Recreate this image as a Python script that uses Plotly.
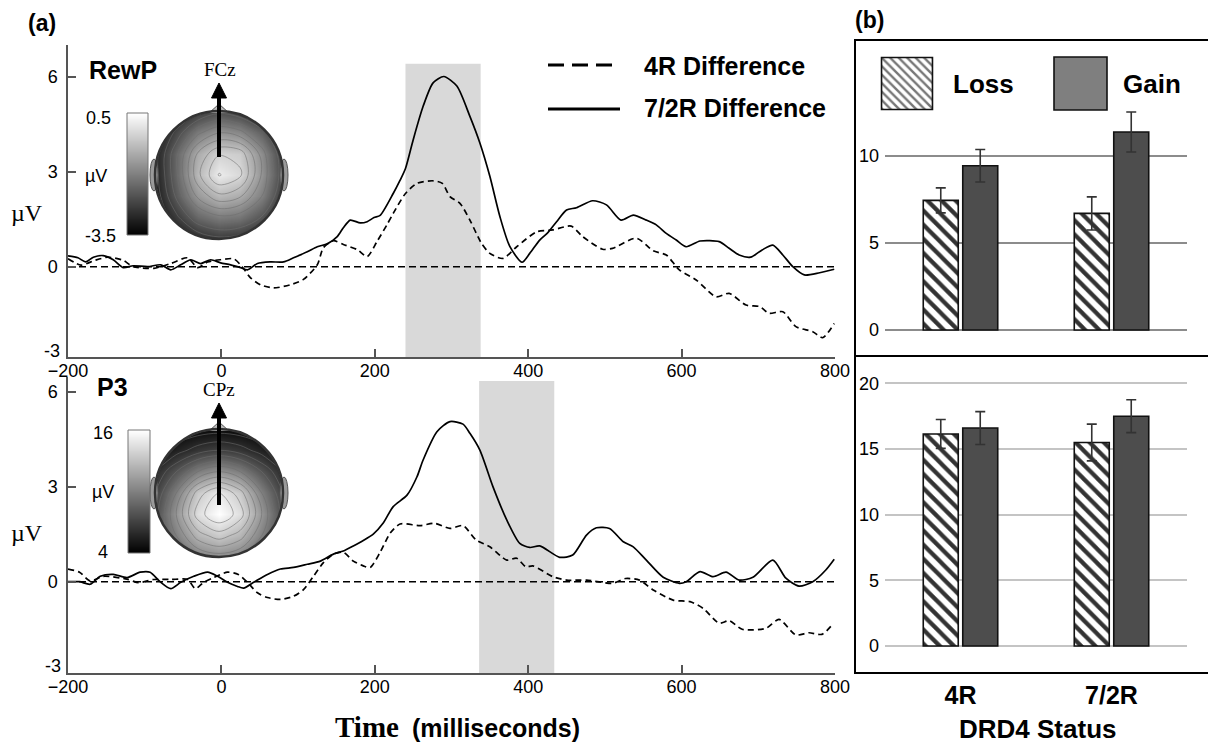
import math
import plotly.graph_objects as go

W, H = 1208, 745
SANS = "Liberation Sans, Arial, sans-serif"
SERIF = "Liberation Serif, Times New Roman, serif"


def PX(x):
    return x / W


def PY(y):
    return 1 - y / H


# ---------------- data: ERP difference waves (µV) ----------------
rewp_72r_t = [-200, -187, -177, -167, -154, -141, -128, -115, -96, -79, -66, -53, -40, -27, -14, -1, 12, 25, 34, 47,
              64, 81, 94, 112, 125, 138, 151, 159, 168, 181, 190, 199, 207, 224, 233, 240, 250, 263, 276, 290,
              307, 324, 337, 350, 363, 376, 392, 402, 415, 425, 437, 450, 463, 484, 502, 521, 537, 554, 567, 580,
              593, 606, 624, 649, 662, 675, 690, 705, 719, 732, 745, 760, 780, 799]
rewp_72r_v = [0.34, 0.28, 0.15, 0.3, 0.35, 0.22, -0.03, 0.03, 0, 0.06, -0.1, 0.06, 0.22, 0.1, 0.22, 0.12, 0.06, -0.03, -0.1, 0.1,
              0.15, 0.15, 0.28, 0.47, 0.63, 0.72, 0.95, 1.23, 1.47, 1.38, 1.42, 1.55, 1.62, 2.31, 2.73, 3.1, 4.0, 5.06, 5.8, 6.0,
              5.7, 4.74, 3.9, 2.85, 1.59, 0.64, 0.14, 0.42, 0.84, 1.06, 1.42, 1.79, 1.86, 2.08, 1.95, 1.47, 1.63, 1.47, 1.32, 1.05,
              0.84, 0.63, 0.81, 0.79, 0.58, 0.37, 0.3, 0.53, 0.68, 0.37, 0, -0.26, -0.19, -0.08]

rewp_4r_t = [-200, -183, -165, -148, -128, -115, -88, -66, -44, -31, -18, -1, 16, 27, 38, 51, 68, 90, 107, 125,
             133, 146, 159, 177, 190, 203, 216, 224, 240, 255, 276, 288, 298, 311, 324, 339, 350, 367, 385, 411,
             432, 456, 471, 497, 510, 541, 563, 580, 597, 619, 645, 662, 684, 702, 714, 732, 749, 771, 784, 799]
rewp_4r_v = [0.25, 0.05, 0.2, 0.3, 0.2, 0, -0.05, 0.1, 0.28, -0.03, 0.15, 0.22, 0.25, 0, -0.35, -0.57, -0.67, -0.57, -0.4, 0.06,
             0.6, 0.82, 0.7, 0.54, 0.32, 0.8, 1.33, 1.68, 2.31, 2.63, 2.71, 2.63, 2.21, 2.0, 1.47, 0.74, 0.42, 0.26, 0.63, 1.1,
             1.16, 1.28, 0.95, 0.55, 0.58, 0.9, 0.5, 0.37, -0.1, -0.42, -0.95, -0.84, -1.21, -1.26, -1.47, -1.42, -1.89, -2.05, -2.24, -1.79]

p3_72r_t = [-200, -185, -171, -158, -141, -123, -106, -93, -80, -66, -53, -36, -18, -5, 8, 21, 29, 42, 60, 77,
            94, 112, 129, 146, 159, 172, 185, 198, 211, 224, 242, 255, 263, 281, 298, 315, 324, 337, 354, 372,
            389, 402, 415, 441, 458, 476, 489, 506, 524, 537, 554, 576, 597, 606, 624, 641, 658, 675, 693, 719,
            736, 753, 771, 788, 799]
p3_72r_v = [0, 0, -0.08, 0.17, 0.23, 0.13, 0.3, 0.3, 0, -0.22, -0.02, 0.17, 0.3, 0.17, -0.02, -0.15, -0.2, -0.02, 0.23, 0.4,
            0.45, 0.55, 0.65, 0.87, 0.97, 1.13, 1.3, 1.5, 1.85, 2.37, 2.73, 3.31, 3.84, 4.73, 5.05, 4.97, 4.68, 4.15, 3.0, 1.95,
            1.21, 1.08, 1.13, 0.77, 0.84, 1.47, 1.7, 1.68, 1.26, 1.1, 0.68, 0.14, -0.05, 0, 0.32, 0.16, 0.3, 0.05, 0.14, 0.68,
            0.11, -0.14, 0, 0.37, 0.71]

p3_4r_t = [-200, -185, -171, -154, -123, -108, -88, -66, -44, -34, -23, -10, 8, 22, 34, 47, 60, 77, 94, 107,
           120, 133, 146, 159, 172, 185, 194, 207, 220, 233, 259, 278, 298, 315, 332, 350, 372, 385, 397, 406,
           432, 450, 476, 510, 527, 545, 563, 589, 611, 628, 649, 662, 679, 710, 727, 749, 766, 783, 796]
p3_4r_v = [0.4, 0.3, 0.02, 0.17, 0.08, -0.03, 0.07, 0.07, 0.07, -0.22, -0.02, 0.13, 0.3, 0.23, -0.02, -0.35, -0.5, -0.56, -0.46, -0.25,
           0.17, 0.6, 0.87, 0.93, 0.65, 0.5, 0.45, 0.93, 1.53, 1.82, 1.77, 1.84, 1.68, 1.77, 1.32, 1.1, 0.68, 0.74, 0.47, 0.5,
           0.16, 0.05, 0.05, -0.05, 0.1, 0.05, -0.26, -0.58, -0.63, -0.84, -1.31, -1.23, -1.5, -1.47, -1.19, -1.68, -1.61, -1.66, -1.37]

rewp_window = [240, 338]
p3_window = [336, 434]
time_ticks = [-200, 0, 200, 400, 600, 800]

# ---------------- data: mean amplitudes by DRD4 status ----------------
groups = ["4R", "7/2R"]
rewp_loss = [7.45, 6.7]
rewp_loss_err = [0.72, 0.95]
rewp_gain = [9.44, 11.38]
rewp_gain_err = [0.93, 1.15]
p3_loss = [16.15, 15.5]
p3_loss_err = [1.1, 1.4]
p3_gain = [16.6, 17.5]
p3_gain_err = [1.25, 1.25]

# ---------------- data: scalp maps (µV grid, rows top -> bottom) ----------------
topo_grid = [-1, -0.667, -0.333, 0, 0.333, 0.667, 1]
rewp_map = [
    [-3.5, -3.1, -2.6, -2.3, -2.5, -3.0, -3.5],
    [-3.2, -2.4, -1.6, -1.2, -1.4, -2.0, -2.9],
    [-3.0, -1.9, -0.8, -0.2, -0.3, -1.3, -2.5],
    [-3.0, -1.9, -0.6, 0.2, -0.1, -1.2, -2.4],
    [-3.1, -2.1, -1.1, -0.6, -0.8, -1.5, -2.6],
    [-3.3, -2.6, -1.9, -1.6, -1.7, -2.2, -2.9],
    [-3.5, -3.2, -2.8, -2.6, -2.7, -3.0, -3.4],
]
p3_map = [
    [4.0, 4.0, 4.3, 4.5, 4.3, 4.0, 4.0],
    [4.5, 5.5, 6.5, 7.0, 6.5, 5.5, 4.5],
    [6.0, 8.0, 10.0, 11.0, 10.0, 8.0, 6.0],
    [7.0, 10.0, 13.5, 15.0, 13.5, 10.0, 7.0],
    [7.5, 11.0, 14.5, 16.0, 14.5, 11.0, 7.5],
    [7.5, 10.0, 12.5, 13.5, 12.5, 10.0, 7.5],
    [7.0, 8.5, 10.0, 10.5, 10.0, 8.5, 7.0],
]
rewp_scale = [-3.5, 0.5]
p3_scale = [4, 16]

# ---------------- geometry (pixels) ----------------
EEG_X = [68, 835]
TOP_Y = [45, 357]
BOT_Y = [377, 673]
HEAD1 = (219, 175, 64)
HEAD2 = (219, 493, 64)
CBAR1 = (127, 148, 113, 235)
CBAR2 = (128, 150, 430, 553)

fig = go.Figure()

dash_style = "6px,4px"
for t, v, ax, dash in [
    (rewp_4r_t, rewp_4r_v, ("x", "y"), dash_style),
    (rewp_72r_t, rewp_72r_v, ("x", "y"), "solid"),
    (p3_4r_t, p3_4r_v, ("x2", "y2"), dash_style),
    (p3_72r_t, p3_72r_v, ("x2", "y2"), "solid"),
]:
    fig.add_trace(go.Scatter(
        x=t, y=v, mode="lines", xaxis=ax[0], yaxis=ax[1], showlegend=False,
        line=dict(color="black", width=1.7, dash=dash, shape="spline", smoothing=0.7),
        hoverinfo="skip"))

greys = [[0, "black"], [1, "white"]]
for grid, sc, ax in [
    (rewp_map, rewp_scale, ("x3", "y3")),
    (p3_map, p3_scale, ("x4", "y4")),
]:
    span = sc[1] - sc[0]
    fig.add_trace(go.Contour(
        x=topo_grid, y=topo_grid[::-1], z=grid, xaxis=ax[0], yaxis=ax[1],
        colorscale=greys, zmin=sc[0], zmax=sc[1], showscale=False,
        contours=dict(coloring="heatmap", start=sc[0], end=sc[1], size=span / 12),
        line=dict(color="rgba(110,110,110,0.7)", width=0.8, smoothing=1),
        hoverinfo="skip"))

# colour ramps beside the scalp maps
for sc, ax in [(rewp_scale, ("x8", "y8")), (p3_scale, ("x9", "y9"))]:
    fig.add_trace(go.Heatmap(
        z=[[sc[0]], [sc[1]]], x=[0], y=[0, 1], xaxis=ax[0], yaxis=ax[1],
        colorscale=greys, zmin=sc[0], zmax=sc[1], zsmooth="best", showscale=False,
        hoverinfo="skip"))

# bars
hatch = dict(shape="\\", fgcolor="#333333", fgopacity=1, bgcolor="white", size=10, solidity=0.42)
for loss, le, gain, ge, ax in [
    (rewp_loss, rewp_loss_err, rewp_gain, rewp_gain_err, ("x5", "y5")),
    (p3_loss, p3_loss_err, p3_gain, p3_gain_err, ("x6", "y6")),
]:
    fig.add_trace(go.Bar(
        x=groups, y=loss, xaxis=ax[0], yaxis=ax[1], name="Loss", showlegend=False,
        marker=dict(color="white", pattern=hatch, line=dict(color="#111", width=1.6)),
        error_y=dict(type="data", array=le, color="#333", thickness=1.6, width=5)))
    fig.add_trace(go.Bar(
        x=groups, y=gain, xaxis=ax[0], yaxis=ax[1], name="Gain", showlegend=False,
        marker=dict(color="#4d4d4d", line=dict(color="#111", width=1.6)),
        error_y=dict(type="data", array=ge, color="#333", thickness=1.6, width=5)))

# hatched legend key
fig.add_trace(go.Bar(
    x=[0], y=[1], width=[1], xaxis="x7", yaxis="y7", showlegend=False, hoverinfo="skip",
    marker=dict(color="white", line=dict(color="#111", width=1.6),
                pattern=dict(shape="\\", fgcolor="#777", fgopacity=1, bgcolor="white", size=6, solidity=0.4))))

axis_common = dict(showgrid=False, zeroline=False, showline=True, linecolor="#555", linewidth=1.5,
                   ticks="inside", ticklen=8, tickwidth=1.5, tickcolor="#555", automargin=False,
                   tickfont=dict(family=SANS, size=18, color="black"))


def yr(zero_px, top_px, bot_px, ppu):
    return [-(bot_px - zero_px) / ppu, (zero_px - top_px) / ppu]


layout = dict(
    width=W, height=H, margin=dict(l=0, r=0, t=0, b=0, autoexpand=False),
    paper_bgcolor="white", plot_bgcolor="rgba(0,0,0,0)",
    barmode="group", bargap=0.477, bargroupgap=0.114, showlegend=False,
    xaxis=dict(domain=[PX(EEG_X[0]), PX(EEG_X[1])], range=[-200, 800], anchor="y",
               tickvals=time_ticks, ticklabelstandoff=-3, **axis_common),
    yaxis=dict(domain=[PY(TOP_Y[1]), PY(TOP_Y[0])], range=yr(266.7, TOP_Y[0], TOP_Y[1], 31.7), anchor="x",
               tickvals=[0, 3, 6], ticklabelstandoff=5, **axis_common),
    xaxis2=dict(domain=[PX(EEG_X[0]), PX(EEG_X[1])], range=[-200, 800], anchor="y2",
                tickvals=time_ticks, ticklabelstandoff=-3, **axis_common),
    yaxis2=dict(domain=[PY(BOT_Y[1]), PY(BOT_Y[0])], range=yr(581.7, BOT_Y[0], BOT_Y[1], 31.7), anchor="x2",
                tickvals=[0, 3, 6], ticklabelstandoff=5, **axis_common),
)

hidden = dict(visible=False, automargin=False)
for i, (cx, cy, r) in zip([3, 4], [HEAD1, HEAD2]):
    layout[f"xaxis{i}"] = dict(domain=[PX(cx - r), PX(cx + r)], range=[-1, 1], anchor=f"y{i}", **hidden)
    layout[f"yaxis{i}"] = dict(domain=[PY(cy + r), PY(cy - r)], range=[-1, 1], anchor=f"x{i}", **hidden)
for i, (x0, x1, y0, y1) in zip([8, 9], [CBAR1, CBAR2]):
    layout[f"xaxis{i}"] = dict(domain=[PX(x0), PX(x1)], range=[-0.5, 0.5], anchor=f"y{i}", **hidden)
    layout[f"yaxis{i}"] = dict(domain=[PY(y1), PY(y0)], range=[0, 1], anchor=f"x{i}", **hidden)

bar_x = dict(type="category", showgrid=False, zeroline=False, showline=False, ticks="", automargin=False)
bar_y = dict(zeroline=False, showline=False, ticks="", ticklabelstandoff=5, automargin=False, showgrid=True,
             gridwidth=1.6, tickfont=dict(family=SANS, size=18, color="black"))
layout["xaxis5"] = dict(domain=[PX(885), PX(1187)], anchor="y5", showticklabels=False, **bar_x)
layout["yaxis5"] = dict(domain=[PY(350), PY(45)], range=yr(330, 45, 350, 17.4), anchor="x5",
                        tickvals=[0, 5, 10], gridcolor="#8c8c8c", **bar_y)
layout["xaxis6"] = dict(domain=[PX(885), PX(1187)], anchor="y6", ticklabelstandoff=10,
                        tickfont=dict(family=SANS, size=25, color="black", weight="bold"), **bar_x)
layout["yaxis6"] = dict(domain=[PY(668), PY(365)], range=yr(646, 365, 668, 13.13), anchor="x6",
                        tickvals=[0, 5, 10, 15, 20], gridcolor="#c4c4c4", **bar_y)
layout["xaxis7"] = dict(domain=[PX(880), PX(934)], range=[-0.53, 0.53], anchor="y7", **hidden)
layout["yaxis7"] = dict(domain=[PY(111), PY(56)], range=[-0.03, 1.03], anchor="x7", **hidden)

fig.update_layout(**layout)

shapes = []
# analysis windows and zero lines
for win, xa, ya, top in [(rewp_window, "x", "y", 6.4), (p3_window, "x2", "y2", 6.33)]:
    shapes.append(dict(type="rect", xref=xa, yref=ya, x0=win[0], x1=win[1], y0=-3.5, y1=top,
                       fillcolor="#d9d9d9", line=dict(width=0), layer="below"))
    shapes.append(dict(type="line", xref=xa, yref=ya, x0=-200, x1=800, y0=0, y1=0,
                       line=dict(color="black", width=1.5, dash="7px,4px"), layer="below"))


def ring_path(cx, cy, r, n=90):
    e = r + 1
    p = (f"M{PX(cx - e)},{PY(cy - e)} L{PX(cx + e)},{PY(cy - e)} "
         f"L{PX(cx + e)},{PY(cy + e)} L{PX(cx - e)},{PY(cy + e)} Z ")
    pts = []
    for k in range(n, -1, -1):
        a = 2 * math.pi * k / n
        pts.append(f"{PX(cx + (r - 0.5) * math.cos(a))},{PY(cy + (r - 0.5) * math.sin(a))}")
    return p + "M" + " L".join(pts) + " Z"


for (cx, cy, r), tip in [(HEAD1, 83), (HEAD2, 403)]:
    shapes.append(dict(type="path", xref="paper", yref="paper", path=ring_path(cx, cy, r),
                       fillcolor="white", line=dict(width=0)))
    for sx in (-1, 1):
        ex = cx + sx * (r + 1)
        shapes.append(dict(type="circle", xref="paper", yref="paper",
                           x0=PX(ex - 4), x1=PX(ex + 4), y0=PY(cy + 16), y1=PY(cy - 16),
                           fillcolor="#9a9a9a", line=dict(color="#555", width=1)))
    shapes.append(dict(type="path", xref="paper", yref="paper",
                       path=f"M{PX(cx - 10)},{PY(cy - r + 2)} L{PX(cx)},{PY(cy - r - 7)} L{PX(cx + 10)},{PY(cy - r + 2)}",
                       fillcolor="#bdbdbd", line=dict(color="#555", width=1)))
    shapes.append(dict(type="circle", xref="paper", yref="paper",
                       x0=PX(cx - r), x1=PX(cx + r), y0=PY(cy + r), y1=PY(cy - r),
                       line=dict(color="#333", width=2.5)))
    base = cy - 18 if tip == 83 else cy + 12
    shapes.append(dict(type="line", xref="paper", yref="paper", x0=PX(cx), x1=PX(cx),
                       y0=PY(base), y1=PY(tip + 12), line=dict(color="black", width=4)))
    shapes.append(dict(type="path", xref="paper", yref="paper",
                       path=f"M{PX(cx - 7.5)},{PY(tip + 15)} L{PX(cx + 7.5)},{PY(tip + 15)} L{PX(cx)},{PY(tip)} Z",
                       fillcolor="black", line=dict(color="black", width=1)))

for x0, x1, y0, y1 in [CBAR1, CBAR2]:
    shapes.append(dict(type="rect", xref="paper", yref="paper", x0=PX(x0), x1=PX(x1), y0=PY(y1), y1=PY(y0),
                       line=dict(color="#777", width=1)))

# ERP legend samples
shapes.append(dict(type="line", xref="paper", yref="paper", x0=PX(548), x1=PX(613), y0=PY(65), y1=PY(65),
                   line=dict(color="black", width=3, dash="16px,8px")))
shapes.append(dict(type="line", xref="paper", yref="paper", x0=PX(548), x1=PX(620), y0=PY(109), y1=PY(109),
                   line=dict(color="black", width=3)))
# panel (b) frame
shapes.append(dict(type="rect", xref="paper", yref="paper", x0=PX(855), x1=PX(1212), y0=PY(673), y1=PY(40),
                   line=dict(color="black", width=2)))
shapes.append(dict(type="line", xref="paper", yref="paper", x0=PX(855), x1=PX(1212), y0=PY(356), y1=PY(356),
                   line=dict(color="black", width=2)))
shapes.append(dict(type="rect", xref="paper", yref="paper", x0=PX(1054), x1=PX(1107), y0=PY(110), y1=PY(57),
                   fillcolor="#7f7f7f", line=dict(color="#111", width=1.6)))
fig.update_layout(shapes=shapes)


def ann(text, x, y, size, family=SANS, xanchor="center", color="black"):
    return dict(text=text, x=PX(x), y=PY(y), xref="paper", yref="paper", showarrow=False,
                xanchor=xanchor, yanchor="middle", font=dict(family=family, size=size, color=color))


annotations = [
    ann("<b>(a)</b>", 42, 23, 23),
    ann("<b>(b)</b>", 869, 20, 23),
    ann("<b>RewP</b>", 123, 70, 25),
    ann("<b>P3</b>", 112, 387, 25),
    ann("FCz", 220, 70, 19, SERIF),
    ann("CPz", 219, 389, 19, SERIF),
    ann("0.5", 98, 118, 18),
    ann("µV", 96, 176, 18),
    ann("-3.5", 100, 236, 18),
    ann("16", 103, 433, 18),
    ann("µV", 103, 492, 18),
    ann("4", 103, 552, 18),
    ann("µV", 27, 213, 24, SERIF),
    ann("µV", 27, 533, 24, SERIF),
    ann("-3", 52, 351, 18),
    ann("-3", 53, 666, 18),
    ann("<b>4R Difference</b>", 642, 66, 25, xanchor="left"),
    ann("<b>7/2R Difference</b>", 642, 108, 25, xanchor="left"),
    ann("<b>Loss</b>", 951, 84, 26, xanchor="left"),
    ann("<b>Gain</b>", 1121, 84, 26, xanchor="left"),
    ann("<b>DRD4 Status</b>", 1037, 729, 26),
    ann("<b>Time</b>", 333, 727, 29, SERIF, xanchor="left"),
    ann("<b>(milliseconds)</b>", 410, 728, 25, xanchor="left"),
]
fig.update_layout(annotations=annotations)

fig.write_html("out.html", config={"displayModeBar": False},
               post_script="document.body.style.margin='0';document.body.style.overflow='hidden';")
